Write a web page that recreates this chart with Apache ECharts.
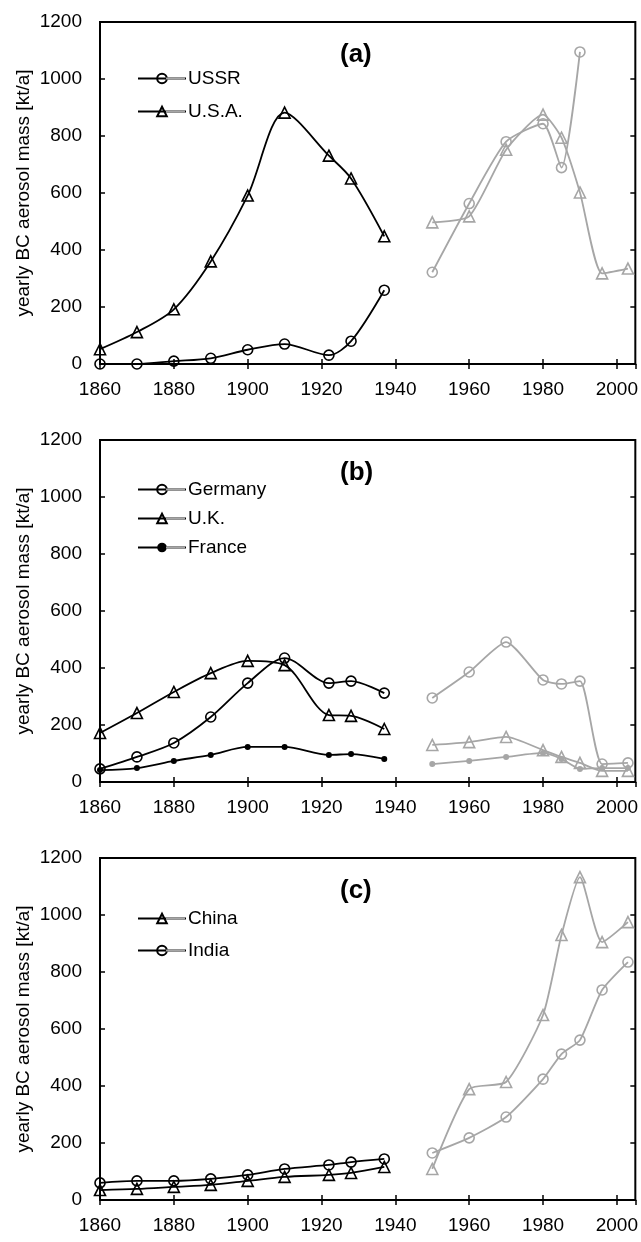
<!DOCTYPE html>
<html>
<head>
<meta charset="utf-8">
<script src="https://cdn.jsdelivr.net/npm/echarts@6/dist/echarts.min.js"></script>
<style>
  html, body { margin: 0; padding: 0; background: #fff; }
  #chart { width: 641px; height: 1242px; }
</style>
</head>
<body>
<div id="chart"></div>
<script>
// years of the two eras
var yearsEarly = [1860, 1870, 1880, 1890, 1900, 1910, 1922, 1928, 1937];
var yearsLate = [1950, 1960, 1970, 1980, 1985, 1990, 1996, 2003];

// (a)
var ussrEarly = [0, 0, 10, 20, 50, 70, 31, 80, 259];
var usaEarly = [52, 112, 192, 360, 591, 882, 731, 651, 448];
var ussrLate = [322, 563, 780, 843, 689, 1095];
var usaLate = [497, 518, 752, 875, 794, 602, 318, 335];

// (b)
var germanyEarly = [46, 88, 137, 228, 347, 435, 347, 354, 312];
var ukEarly = [172, 242, 316, 382, 425, 410, 235, 232, 186];
var franceEarly = [42, 49, 74, 95, 123, 123, 95, 98, 81];
var germanyLate = [295, 386, 491, 358, 344, 354, 63, 67];
var ukLate = [130, 140, 158, 112, 88, 67, 39, 39];
var franceLate = [63, 74, 88, 102, 81, 46, 49, 49];

// (c)
var chinaEarly = [35, 39, 46, 53, 67, 81, 88, 95, 116];
var indiaEarly = [60, 67, 67, 74, 88, 109, 123, 133, 144];
var chinaLate = [109, 389, 414, 649, 930, 1133, 905, 975];
var indiaLate = [165, 218, 291, 424, 512, 561, 737, 835];

var panelLabels = ['(a)', '(b)', '(c)'];
var yTitle = 'yearly BC aerosol mass [kt/a]';

var FONT = '"Liberation Sans", Arial, sans-serif';
var BLACK = '#000';
var GREY = '#a6a6a6';
var LATE = ' late';
var gridTops = [22, 440, 858];
var gridH = 342;

function pairs(xs, ys) {
    var out = [];
    for (var i = 0; i < ys.length; i++) {
        out.push([xs[i], ys[i]]);
    }
    return out;
}

function line(name, xs, ys, g, color, symbol) {
    var filled = symbol === 'dot';
    return {
        name: name,
        type: 'line',
        xAxisIndex: g,
        yAxisIndex: g,
        data: pairs(xs, ys),
        smooth: color === BLACK ? 0.3 : 0.2,
        symbol: filled ? 'circle' : symbol,
        symbolSize: filled ? 6 : (symbol === 'triangle' ? 11 : 10),
        showAllSymbol: true,
        lineStyle: { color: color, width: 1.8 },
        itemStyle: {
            color: filled ? color : 'rgba(0,0,0,0)',
            borderColor: color,
            borderWidth: filled ? 0 : 1.6
        },
        emphasis: { disabled: true },
        animation: false,
        z: color === BLACK ? 3 : 2
    };
}

function plain(v) { return String(v); }

var grids = [], xAxes = [], yAxes = [], titles = [], legends = [];
for (var g = 0; g < 3; g++) {
    grids.push({
        left: 100, right: 4, top: gridTops[g], height: gridH,
        show: true, borderColor: BLACK, borderWidth: 2
    });
    // bottom and left axes carry the labels
    xAxes.push({
        type: 'value', gridIndex: g, min: 1860, max: 2005, interval: 20,
        axisLine: { show: true, onZero: false, lineStyle: { color: BLACK, width: 2 } },
        axisTick: { show: true, inside: true, length: 5, lineStyle: { color: BLACK, width: 1.5 } },
        axisLabel: { showMaxLabel: false, formatter: plain, color: BLACK, fontFamily: FONT, fontSize: 19, margin: 16 },
        splitLine: { show: false }
    });
    yAxes.push({
        type: 'value', gridIndex: g, min: 0, max: 1200, interval: 200,
        name: yTitle, nameLocation: 'middle', nameGap: 67, nameMoveOverlap: false,
        nameTextStyle: { color: BLACK, fontFamily: FONT, fontSize: 19 },
        axisLine: { show: true, onZero: false, lineStyle: { color: BLACK, width: 2 } },
        axisTick: { show: true, inside: true, length: 5, lineStyle: { color: BLACK, width: 1.5 } },
        axisLabel: { formatter: plain, color: BLACK, fontFamily: FONT, fontSize: 19, margin: 18 },
        splitLine: { show: false }
    });
    titles.push({
        text: panelLabels[g], left: 335, top: gridTops[g] + 15,
        textStyle: { fontFamily: FONT, fontSize: 26, fontWeight: 'bold', color: BLACK }
    });
}
// mirrored tick marks on top and right edges
for (var k = 0; k < 3; k++) {
    xAxes.push({
        type: 'value', gridIndex: k, position: 'top', min: 1860, max: 2005, interval: 20,
        axisLine: { show: false },
        axisTick: { show: true, inside: true, length: 5, lineStyle: { color: BLACK, width: 1.5 } },
        axisLabel: { show: false }, splitLine: { show: false }
    });
    yAxes.push({
        type: 'value', gridIndex: k, position: 'right', min: 0, max: 1200, interval: 200,
        axisLine: { show: false },
        axisTick: { show: true, inside: true, length: 5, lineStyle: { color: BLACK, width: 1.5 } },
        axisLabel: { show: false }, splitLine: { show: false }
    });
}

var legendNames = [['USSR', 'U.S.A.'], ['Germany', 'U.K.', 'France'], ['China', 'India']];
var legendOffsets = [42, 35, 46];
var legendGaps = [14, 10, 13];
var legendLeft = 132, legendIconW = 48, greyW = 19;
for (var m = 0; m < 3; m++) {
    legends.push({
        data: legendNames[m], orient: 'vertical', left: legendLeft, top: gridTops[m] + legendOffsets[m],
        itemWidth: legendIconW, itemHeight: 12, itemGap: legendGaps[m],
        textStyle: { fontFamily: FONT, fontSize: 19, color: BLACK, padding: [0, 0, 0, -3] },
        selectedMode: false
    });
    // grey right half of each key (later period), laid out with the same rows
    legends.push({
        data: legendNames[m].map(function (n) { return n + LATE; }),
        formatter: function (n) { return n.replace(LATE, ''); },
        orient: 'vertical', left: legendLeft + legendIconW - greyW, top: gridTops[m] + legendOffsets[m],
        itemWidth: greyW, itemHeight: 2, itemGap: legendGaps[m], icon: 'rect',
        itemStyle: { color: GREY, borderWidth: 0 },
        textStyle: { fontFamily: FONT, fontSize: 19, color: 'rgba(0,0,0,0)', padding: [0, 0, 0, -3] },
        selectedMode: false, z: 5
    });
}

var series = [
    line('USSR', yearsEarly, ussrEarly, 0, BLACK, 'circle'),
    line('U.S.A.', yearsEarly, usaEarly, 0, BLACK, 'triangle'),
    line('USSR' + LATE, yearsLate, ussrLate, 0, GREY, 'circle'),
    line('U.S.A.' + LATE, yearsLate, usaLate, 0, GREY, 'triangle'),

    line('Germany', yearsEarly, germanyEarly, 1, BLACK, 'circle'),
    line('U.K.', yearsEarly, ukEarly, 1, BLACK, 'triangle'),
    line('France', yearsEarly, franceEarly, 1, BLACK, 'dot'),
    line('Germany' + LATE, yearsLate, germanyLate, 1, GREY, 'circle'),
    line('U.K.' + LATE, yearsLate, ukLate, 1, GREY, 'triangle'),
    line('France' + LATE, yearsLate, franceLate, 1, GREY, 'dot'),

    line('China', yearsEarly, chinaEarly, 2, BLACK, 'triangle'),
    line('India', yearsEarly, indiaEarly, 2, BLACK, 'circle'),
    line('China' + LATE, yearsLate, chinaLate, 2, GREY, 'triangle'),
    line('India' + LATE, yearsLate, indiaLate, 2, GREY, 'circle')
];

var myChart = echarts.init(document.getElementById('chart'), null, { renderer: 'canvas' });
myChart.setOption({
    backgroundColor: '#fff',
    animation: false,
    title: titles,
    legend: legends,
    grid: grids,
    xAxis: xAxes,
    yAxis: yAxes,
    series: series
});
</script>
</body>
</html>
